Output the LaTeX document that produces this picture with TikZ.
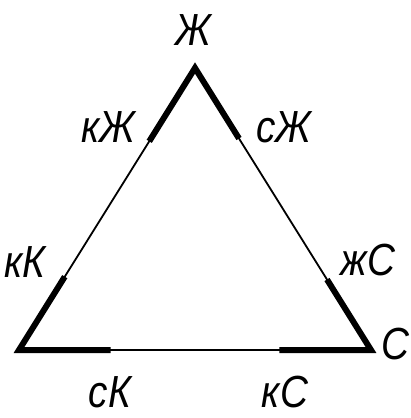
\documentclass[tikz,border=0pt]{standalone}
\usepackage{fontspec}
\setmainfont{Liberation Sans}
\usetikzlibrary{calc}

\begin{document}
\begin{tikzpicture}[x=1pt, y=-1pt,
    edge/.style={line width=1.8pt},
    heavy/.style={line width=6pt, line join=miter},
    tag/.style={font=\fontsize{45}{45}\selectfont\itshape, inner sep=0pt, xscale=0.86}
]
    \useasboundingbox (0,0) rectangle (411,418);

    % Vertices
    \coordinate (zh) at (195,68);
    \coordinate (k) at (19,350);
    \coordinate (s) at (371,350);

    % Thin triangle
    \draw[edge] (zh) -- (k) -- (s) -- cycle;

    % Heavy ends at the vertices
    \draw[heavy] ($(zh)!0.26!(k)$) -- (zh) -- ($(zh)!0.25!(s)$);
    \draw[heavy] ($(k)!0.26!(zh)$) -- (k) -- ($(k)!0.26!(s)$);
    \draw[heavy] ($(s)!0.25!(zh)$) -- (s) -- ($(s)!0.26!(k)$);

    % Labels
    \node[tag] (lzh) at (193,30) {Ж};
    \node[tag] (lkzh) at (108,127) {кЖ};
    \node[tag] (lszh) at (284,127) {сЖ};
    \node[tag] (lkk) at (25,262) {кК};
    \node[tag] (lzhs) at (368,260) {жС};
    \node[tag] (ls) at (395,344) {С};
    \node[tag] (lsk) at (110,392) {сК};
    \node[tag] (lks) at (285,392) {кС};
\end{tikzpicture}
\end{document}
